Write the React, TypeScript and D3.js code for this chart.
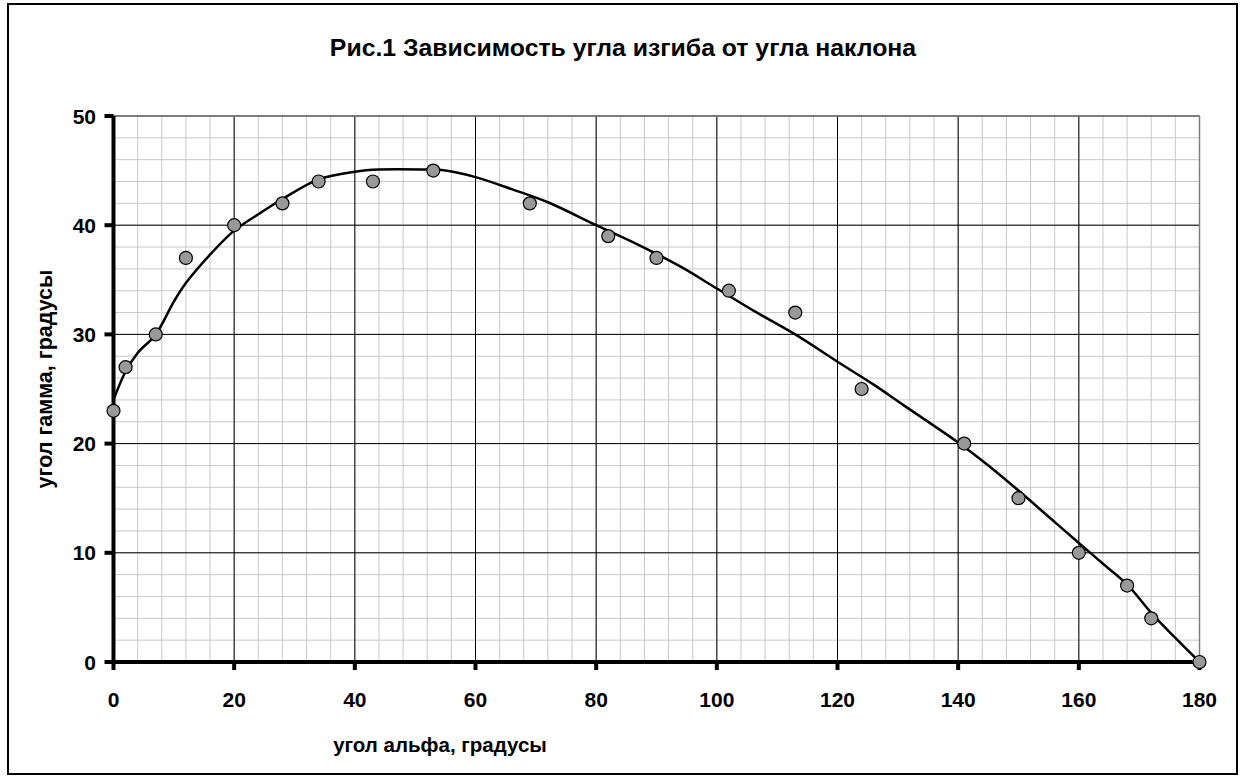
import React from "react";
import * as d3 from "d3";

// Measured points (alpha, gamma)
const alphaValues = [0, 2, 7, 12, 20, 28, 34, 43, 53, 69, 82, 90, 102, 113, 124, 141, 150, 160, 168, 172, 180];
const gammaValues = [23, 27, 30, 37, 40, 42, 44, 44, 45, 42, 39, 37, 34, 32, 25, 20, 15, 10, 7, 4, 0];

// Trend curve
const trendAlpha = [0, 2, 4, 7, 10, 12, 16, 20, 24, 28, 34, 40, 44, 51, 55, 60, 66, 72, 80, 87, 94, 100, 106, 113, 120, 126, 131, 140, 145, 150, 155, 160, 164, 168, 172, 176, 180];
const trendGamma = [24.0, 26.6, 28.3, 30.0, 33.0, 34.7, 37.3, 39.5, 41.0, 42.4, 44.2, 44.9, 45.1, 45.1, 45.0, 44.4, 43.3, 42.1, 40.0, 38.2, 36.2, 34.2, 32.2, 30.0, 27.5, 25.4, 23.5, 20.1, 18.0, 15.7, 13.3, 10.9, 9.0, 7.1, 4.5, 2.2, 0];

const xTicks = [0, 20, 40, 60, 80, 100, 120, 140, 160, 180];
const yTicks = [0, 10, 20, 30, 40, 50];
const xMinorTicks = d3.range(0, 181, 4);
const yMinorTicks = d3.range(0, 51, 2);

const title = "Рис.1 Зависимость угла изгиба от угла наклона";
const xLabel = "угол альфа, градусы";
const yLabel = "угол гамма, градусы";

const W = 1241;
const H = 778;
const FONT = "'Liberation Sans', Arial, sans-serif";

export default function App() {
  const x = d3.scaleLinear().domain([0, 180]).range([113.5, 1199.5]);
  const y = d3.scaleLinear().domain([0, 50]).range([662, 116]);

  const line = d3
    .line<number>()
    .x((_, i) => x(trendAlpha[i]))
    .y((d) => y(d))
    .curve(d3.curveCatmullRom.alpha(0.5));

  return (
    <svg
      width={W}
      height={H}
      style={{ position: "absolute", left: 0, top: 0, background: "#fff" }}
      fontFamily={FONT}
    >
      <rect x={0} y={0} width={W} height={H} fill="#fff" />
      {/* outer border */}
      <rect x={8} y={4} width={1229} height={770} fill="none" stroke="#000" strokeWidth={2} />

      {/* minor grid */}
      {xMinorTicks.map((t) => (
        <line key={"xm" + t} x1={x(t)} x2={x(t)} y1={y(0)} y2={y(50)} stroke="#c8c8c8" strokeWidth={1} />
      ))}
      {yMinorTicks.map((t) => (
        <line key={"ym" + t} x1={x(0)} x2={x(180)} y1={y(t)} y2={y(t)} stroke="#c8c8c8" strokeWidth={1} />
      ))}
      {/* major grid */}
      {xTicks.map((t) => (
        <line key={"xM" + t} x1={x(t)} x2={x(t)} y1={y(0)} y2={y(50)} stroke="#000" strokeWidth={1} />
      ))}
      {yTicks.map((t) => (
        <line key={"yM" + t} x1={x(0)} x2={x(180)} y1={y(t)} y2={y(t)} stroke="#000" strokeWidth={1} />
      ))}
      {/* plot border top/right */}
      <line x1={x(0)} x2={x(180)} y1={y(50)} y2={y(50)} stroke="#808080" strokeWidth={1.5} />
      <line x1={x(180)} x2={x(180)} y1={y(0)} y2={y(50)} stroke="#808080" strokeWidth={1.5} />

      {/* axes */}
      <line x1={x(0)} x2={x(180)} y1={y(0)} y2={y(0)} stroke="#000" strokeWidth={4} />
      <line x1={x(0)} x2={x(0)} y1={y(0)} y2={y(50)} stroke="#000" strokeWidth={4} />
      {xTicks.map((t) => (
        <line key={"xt" + t} x1={x(t)} x2={x(t)} y1={y(0)} y2={y(0) + 8} stroke="#000" strokeWidth={4} />
      ))}
      {yTicks.map((t) => (
        <line key={"yt" + t} x1={x(0) - 9} x2={x(0)} y1={y(t)} y2={y(t)} stroke="#000" strokeWidth={4} />
      ))}

      {/* tick labels */}
      {xTicks.map((t) => (
        <text key={"xl" + t} x={x(t)} y={707} textAnchor="middle" fontSize={21} fontWeight="bold">
          {t}
        </text>
      ))}
      {yTicks.map((t) => (
        <text key={"yl" + t} x={96} y={y(t) + 7.5} textAnchor="end" fontSize={21} fontWeight="bold">
          {t}
        </text>
      ))}

      {/* trend line */}
      <path d={line(trendGamma) || ""} fill="none" stroke="#000" strokeWidth={2.5} />

      {/* points */}
      {alphaValues.map((a, i) => (
        <circle key={"p" + i} cx={x(a)} cy={y(gammaValues[i])} r={6.5} fill="#999999" stroke="#000" strokeWidth={1.2} />
      ))}

      {/* texts */}
      <text x={623} y={56} textAnchor="middle" fontSize={24.8} fontWeight="bold">
        {title}
      </text>
      <text x={440} y={752} textAnchor="middle" fontSize={20.5} fontWeight="bold">
        {xLabel}
      </text>
      <text
        transform={`translate(52, 379) rotate(-90)`}
        textAnchor="middle"
        fontSize={21.5}
        fontWeight="bold"
      >
        {yLabel}
      </text>
    </svg>
  );
}
